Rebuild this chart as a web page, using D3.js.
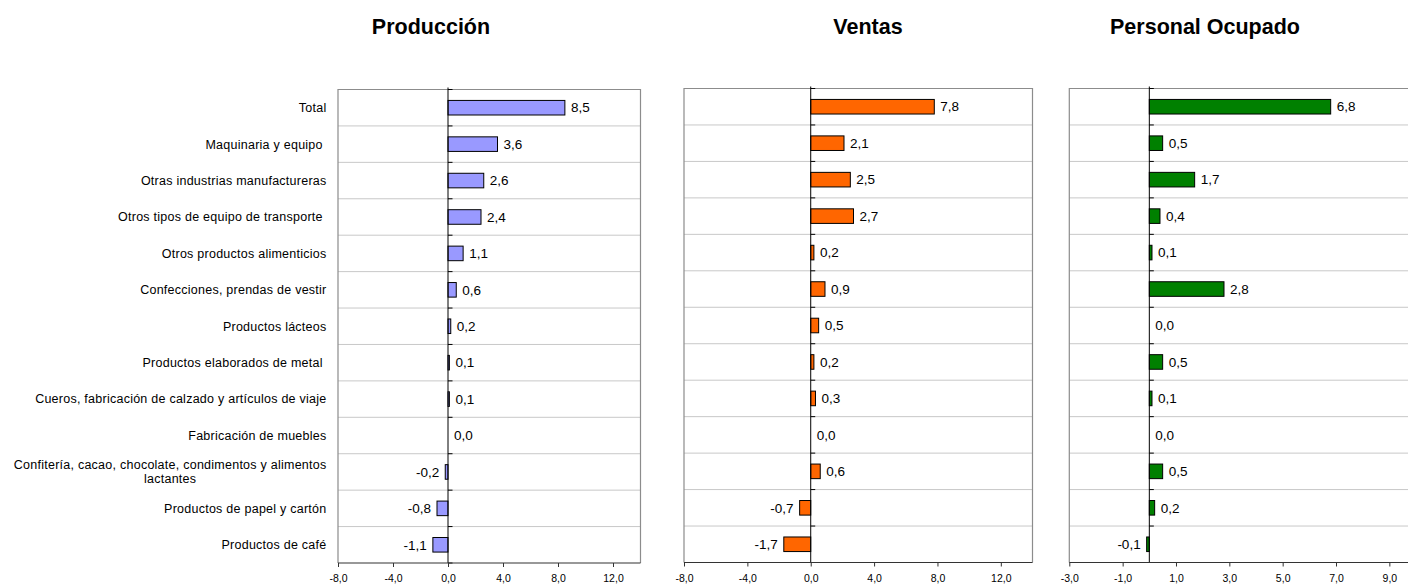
<!DOCTYPE html>
<html>
<head>
<meta charset="utf-8">
<script src="https://cdn.jsdelivr.net/npm/d3@7"></script>
<style>
  html, body { margin: 0; padding: 0; background: #fff; }
  svg { display: block; font-family: "Liberation Sans", Arial, sans-serif; }
  .cat { white-space: pre; letter-spacing: 0.25px; }
</style>
</head>
<body>
<svg id="chart" width="1408" height="586"></svg>
<script>
// Industry categories, top to bottom
const categories = [
  "Total",
  "Maquinaria y equipo ",
  "Otras industrias manufactureras",
  "Otros tipos de equipo de transporte ",
  "Otros productos alimenticios",
  "Confecciones, prendas de vestir",
  "Productos lácteos",
  "Productos elaborados de metal ",
  "Cueros, fabricación de calzado y artículos de viaje",
  "Fabricación de muebles",
  "Confitería, cacao, chocolate, condimentos y alimentos|lactantes",
  "Productos de papel y cartón",
  "Productos de café"
];

// Annual variation (%) per panel
const produccion = [8.5, 3.6, 2.6, 2.4, 1.1, 0.6, 0.2, 0.1, 0.1, 0.0, -0.2, -0.8, -1.1];
const ventas     = [7.8, 2.1, 2.5, 2.7, 0.2, 0.9, 0.5, 0.2, 0.3, 0.0, 0.6, -0.7, -1.7];
const personal   = [6.8, 0.5, 1.7, 0.4, 0.1, 2.8, 0.0, 0.5, 0.1, 0.0, 0.5, 0.2, -0.1];

// Axis ticks per panel
const ticksProduccion = [-8, -4, 0, 4, 8, 12];
const ticksVentas     = [-8, -4, 0, 4, 8, 12];
const ticksPersonal   = [-3, -1, 1, 3, 5, 7, 9];

const titles = ["Producción", "Ventas", "Personal Ocupado"];

const fmt = v => d3.format(".1f")(v).replace(".", ",").replace("−", "-");

const svg = d3.select("#chart");

const panels = [
  { title: titles[0], values: produccion, ticks: ticksProduccion, domain: [-8, 14],
    x0: 338, x1: 640.5, y0: 89.5, y1: 563, fill: "#9999ff", titleX: 431 },
  { title: titles[1], values: ventas, ticks: ticksVentas, domain: [-8, 14],
    x0: 684, x1: 1032.5, y0: 88.5, y1: 562.5, fill: "#ff6600", titleX: 868 },
  { title: titles[2], values: personal, ticks: ticksPersonal, domain: [-3, 11],
    x0: 1069.3, x1: 1442.7, y0: 88.5, y1: 562.5, fill: "#008000", titleX: 1205 }
];

panels.forEach((p, pi) => {
  const g = svg.append("g");
  const x = d3.scaleLinear().domain(p.domain).range([p.x0, p.x1]);
  const y = d3.scaleBand().domain(d3.range(categories.length))
    .range([p.y0, p.y1]).paddingInner(0.6).paddingOuter(0.3);
  const step = y.step();

  // title
  svg.append("text")
    .attr("x", p.titleX).attr("y", 34)
    .attr("text-anchor", "middle")
    .attr("font-size", 21.5).attr("font-weight", "bold")
    .attr("fill", "#000")
    .text(p.title);

  // row separators
  g.selectAll("line.grid")
    .data(d3.range(1, categories.length))
    .join("line")
    .attr("x1", p.x0).attr("x2", p.x1)
    .attr("y1", i => p.y0 + i * step).attr("y2", i => p.y0 + i * step)
    .attr("stroke", "#c8c8c8").attr("stroke-width", 1);

  // plot frame (left, top, right)
  g.append("path")
    .attr("d", `M${p.x0},${p.y1}V${p.y0}H${p.x1}V${p.y1}`)
    .attr("fill", "none").attr("stroke", "#8c8c8c").attr("stroke-width", 1.2);

  // bars
  g.selectAll("rect.bar")
    .data(p.values)
    .join("rect")
    .attr("x", d => Math.min(x(0), x(d)))
    .attr("width", d => Math.abs(x(d) - x(0)))
    .attr("y", (d, i) => y(i))
    .attr("height", y.bandwidth())
    .attr("fill", p.fill)
    .attr("stroke", "#000").attr("stroke-width", 1);

  // value labels
  g.selectAll("text.val")
    .data(p.values)
    .join("text")
    .attr("x", d => d < 0 ? x(d) - 6 : x(d) + 6)
    .attr("y", (d, i) => y(i) + y.bandwidth() / 2)
    .attr("dy", "0.35em")
    .attr("text-anchor", d => d < 0 ? "end" : "start")
    .attr("font-size", 13.5)
    .attr("fill", "#000")
    .text(d => fmt(d));

  // zero (category) axis with small ticks at each row boundary
  g.append("line")
    .attr("x1", x(0)).attr("x2", x(0))
    .attr("y1", p.y0 - 2).attr("y2", p.y1)
    .attr("stroke", "#000").attr("stroke-width", 1);
  g.selectAll("line.ctick")
    .data(d3.range(0, categories.length + 1))
    .join("line")
    .attr("x1", x(0)).attr("x2", x(0) + 4.5)
    .attr("y1", i => p.y0 + i * step).attr("y2", i => p.y0 + i * step)
    .attr("stroke", "#000").attr("stroke-width", 1);

  // value axis along the bottom
  const axis = d3.axisBottom(x).tickValues(p.ticks).tickSize(4).tickFormat(fmt);
  const ax = g.append("g")
    .attr("transform", `translate(0,${p.y1})`)
    .call(axis);
  ax.select(".domain")
    .attr("d", `M${p.x0},0H${p.x1}`)
    .attr("stroke", "#333").attr("stroke-width", 1.2);
  ax.selectAll(".tick line").attr("stroke", "#333");
  ax.selectAll(".tick text")
    .attr("y", 12).attr("dy", "0.71em")
    .attr("font-size", 10.5)
    .attr("font-family", "Liberation Sans, Arial, sans-serif")
    .attr("fill", "#000");

  // category labels on the first panel only
  if (pi === 0) {
    const labelX = p.x0 - 11.5;
    categories.forEach((c, i) => {
      const cy = y(i) + y.bandwidth() / 2;
      const lines = c.split("|");
      if (lines.length === 1) {
        svg.append("text").attr("class", "cat")
          .attr("x", labelX).attr("y", cy).attr("dy", "0.35em")
          .attr("text-anchor", "end")
          .attr("font-size", 12.5).attr("fill", "#000")
          .text(c);
      } else {
        const t1 = svg.append("text").attr("class", "cat")
          .attr("x", labelX).attr("y", cy - 7).attr("dy", "0.35em")
          .attr("text-anchor", "end")
          .attr("font-size", 12.5).attr("fill", "#000")
          .text(lines[0]);
        const w = t1.node().getComputedTextLength();
        svg.append("text").attr("class", "cat")
          .attr("x", labelX - w / 2).attr("y", cy + 7).attr("dy", "0.35em")
          .attr("text-anchor", "middle")
          .attr("font-size", 12.5).attr("fill", "#000")
          .text(lines[1]);
      }
    });
  }
});
</script>
</body>
</html>
